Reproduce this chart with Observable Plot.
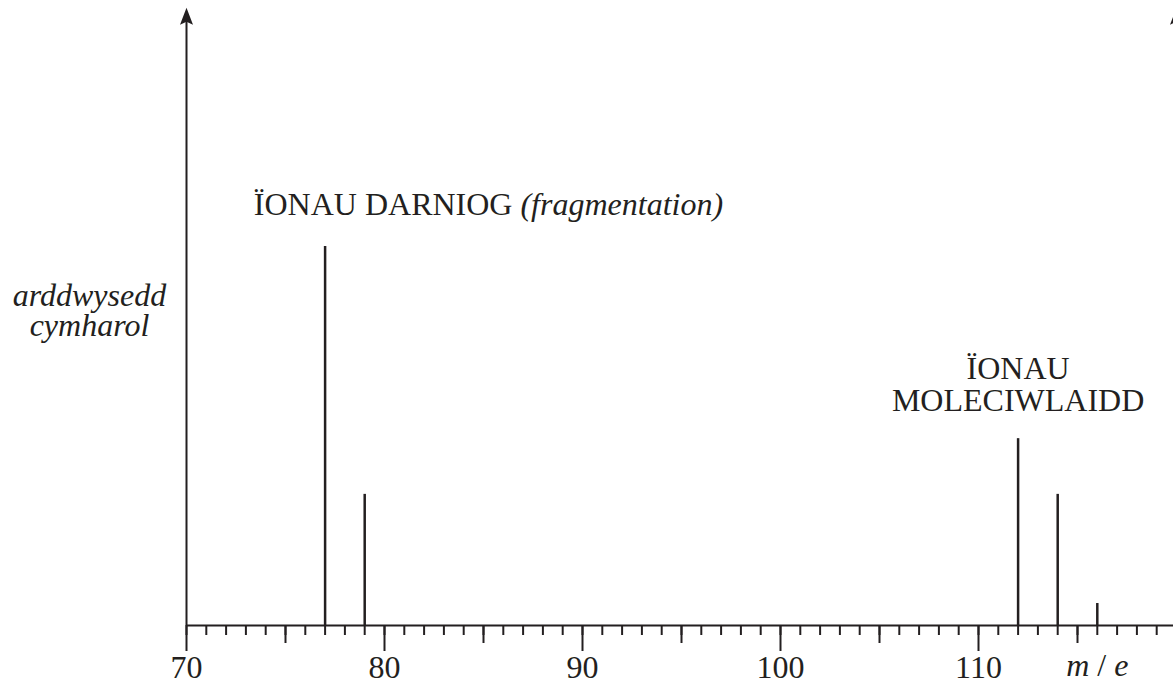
<!DOCTYPE html>
<html><head><meta charset="utf-8">
<script src="https://cdn.jsdelivr.net/npm/d3@7"></script>
<script src="https://cdn.jsdelivr.net/npm/@observablehq/plot@0.6"></script>
<style>html,body{margin:0;padding:0;background:#fff;overflow:hidden}</style>
</head><body><div id="chart"></div>
<script>
// Data
const massToCharge = [77, 79, 112, 114, 116];
const relativeIntensity = [100, 34.6, 49.3, 34.6, 5.8];
// Tick values
const majorTicks = [70, 80, 90, 100, 110];
const majorTickLabels = ["70", "80", "90", "100", "110"];
const midTicks = [75, 85, 95, 105, 115];
const minorTicks = d3.range(70, 120);
// Axes lines (left visible y axis, right cut-off one)
const axisPositions = [70, 120];
// Text
const fragLabel = "ÏONAU DARNIOG (fragmentation)";
const molLabel = "ÏONAU\nMOLECIWLAIDD";
const yLabel = "arddwysedd\ncymharol";
const xLabel = "m / e";

const peaks = massToCharge.map((m, i) => ({mz: m, intensity: relativeIntensity[i]}));
const ink = "#231f20";
const font = "'Liberation Serif', 'Times New Roman', serif";

const arrowHead = {
  draw(ctx) {
    ctx.moveTo(0, 0);
    ctx.lineTo(6.5, 17);
    ctx.lineTo(0, 14);
    ctx.lineTo(-6.5, 17);
    ctx.closePath();
  }
};

const chart = Plot.plot({
  width: 1173,
  height: 684,
  marginLeft: 186,
  marginRight: 0,
  marginTop: 0,
  marginBottom: 59,
  style: {fontFamily: font, color: ink, background: "#fff"},
  x: {domain: [70, 120], range: [186, 1176], label: null},
  y: {domain: [0, 100], range: [625, 246], axis: null},
  marks: [
    Plot.axisX({ticks: minorTicks, tickSize: 10, tickFormat: () => "", strokeWidth: 2, label: null, stroke: ink}),
    Plot.axisX({ticks: midTicks, tickSize: 18, tickFormat: () => "", strokeWidth: 2, label: null, stroke: ink}),
    Plot.axisX({ticks: majorTicks, tickSize: 26, tickPadding: 4, tickFormat: (d, i) => majorTickLabels[i], strokeWidth: 2, fontSize: 32, label: null, stroke: ink, fill: ink}),
    Plot.ruleY([0], {x1: 70, x2: 120, stroke: ink, strokeWidth: 2}),
    Plot.ruleX(axisPositions, {x: d => d, y1: 0, y2: 160, stroke: ink, strokeWidth: 2}),
    Plot.dot(axisPositions, {x: d => d, y: 163, symbol: arrowHead, fill: ink, stroke: "none"}),
    Plot.ruleX(peaks, {x: "mz", y1: 0, y2: "intensity", stroke: ink, strokeWidth: 2.5}),
    Plot.text([fragLabel], {x: 73.4, y: 108.2, text: d => d, textAnchor: "start", lineAnchor: "bottom", fontSize: 32, fill: ink}),
    Plot.text([molLabel], {x: 112, y: 56.7, text: d => d, textAnchor: "middle", lineAnchor: "bottom", lineHeight: 1.0, fontSize: 32, fill: ink}),
    Plot.text([yLabel], {x: 65.1, y: 76.5, text: d => d, textAnchor: "middle", lineAnchor: "bottom", lineHeight: 0.91, fontSize: 32, fontStyle: "italic", fill: ink}),
    Plot.text([xLabel], {x: 116, y: -13.4, text: d => d, textAnchor: "middle", lineAnchor: "bottom", fontSize: 32, fill: ink})
  ]
});

document.getElementById("chart").appendChild(chart);

// Mixed roman / italic text spans
d3.select(chart).selectAll("text").each(function() {
  const t = d3.select(this);
  if (this.textContent === fragLabel) {
    t.text(null);
    t.append("tspan").text("ÏONAU DARNIOG ");
    t.append("tspan").attr("font-style", "italic").text("(fragmentation)");
  } else if (this.textContent === xLabel) {
    t.text(null);
    t.append("tspan").attr("font-style", "italic").text("m");
    t.append("tspan").text(" / ");
    t.append("tspan").attr("font-style", "italic").text("e");
  }
});
</script>
</body></html>
